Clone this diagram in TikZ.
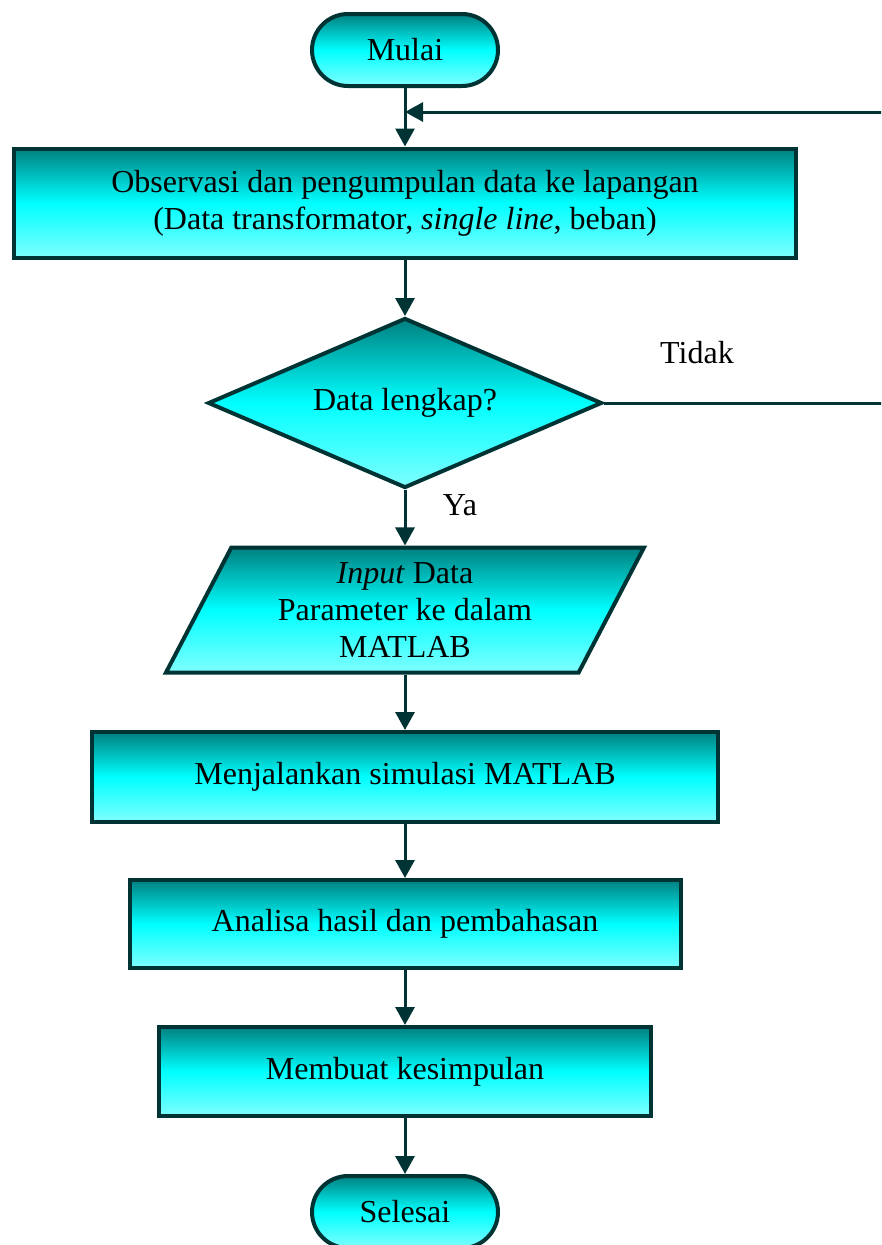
\documentclass[tikz,border=0pt]{standalone}
\usepackage{fontspec}
\setmainfont{Liberation Serif}
\usetikzlibrary{shapes.geometric,arrows.meta}
\definecolor{edgeteal}{RGB}{0,51,51}
\definecolor{tealtop}{RGB}{0,128,128}
\definecolor{cyanmid}{RGB}{0,255,255}
\definecolor{cyanlow}{RGB}{128,255,255}

\begin{document}
\begin{tikzpicture}[x=1pt,y=-1pt,
	font=\fontsize{32}{37}\selectfont,
	box/.style={draw=edgeteal,line width=4pt,top color=tealtop,bottom color=cyanlow,middle color=cyanmid,align=center,inner sep=0pt},
	term/.style={box,rectangle,rounded corners=36pt,minimum width=186pt,minimum height=72pt},
	proc/.style={box,rectangle},
	arr/.style={draw=edgeteal,line width=3pt,-{Triangle[length=18pt,width=19pt]}}]
				\useasboundingbox (0,0) rectangle (881,1245);
				\clip (0,0) rectangle (881,1245);

				\node[term] (mulai) at (405,50) {Mulai};
				\node[proc,minimum width=782pt,minimum height=109pt] (obs) at (405,203) {Observasi dan pengumpulan data ke lapangan\\(Data transformator, \textit{single line}, beban)};
				\node[box,diamond,shape aspect=2.3,minimum width=394pt,minimum height=170pt] (lengkap) at (405,403) {Data lengkap?};
				\node[box,trapezium,trapezium left angle=63.3,trapezium right angle=116.7,trapezium stretches=true,minimum width=479pt,minimum height=125pt] (input) at (405,610) {\textit{Input} Data\\Parameter ke dalam\\MATLAB};
				\node[proc,minimum width=626pt,minimum height=90pt] (simulasi) at (405,777) {Menjalankan simulasi MATLAB};
				\node[proc,minimum width=551pt,minimum height=88pt] (analisa) at (405,924) {Analisa hasil dan pembahasan};
				\node[proc,minimum width=492pt,minimum height=89pt] (simpul) at (405,1071.5) {Membuat kesimpulan};
				\node[term] (selesai) at (405,1212) {Selesai};

				\node (tidak) at (697,353) {Tidak};
				\node (ya) at (460,505) {Ya};

				\coordinate (gabung) at (405,112);
				\coordinate (kanan) at (895,403);

				\draw [arr](mulai) -- (obs);
				\draw [arr](obs) -- (lengkap);
				\draw [arr](lengkap) -- (input);
				\draw [arr](input) -- (simulasi);
				\draw [arr](simulasi) -- (analisa);
				\draw [arr](analisa) -- (simpul);
				\draw [arr](simpul) -- (selesai);
				\draw [arr](lengkap.east) -- (kanan) |- (gabung);
			\end{tikzpicture}
\end{document}
